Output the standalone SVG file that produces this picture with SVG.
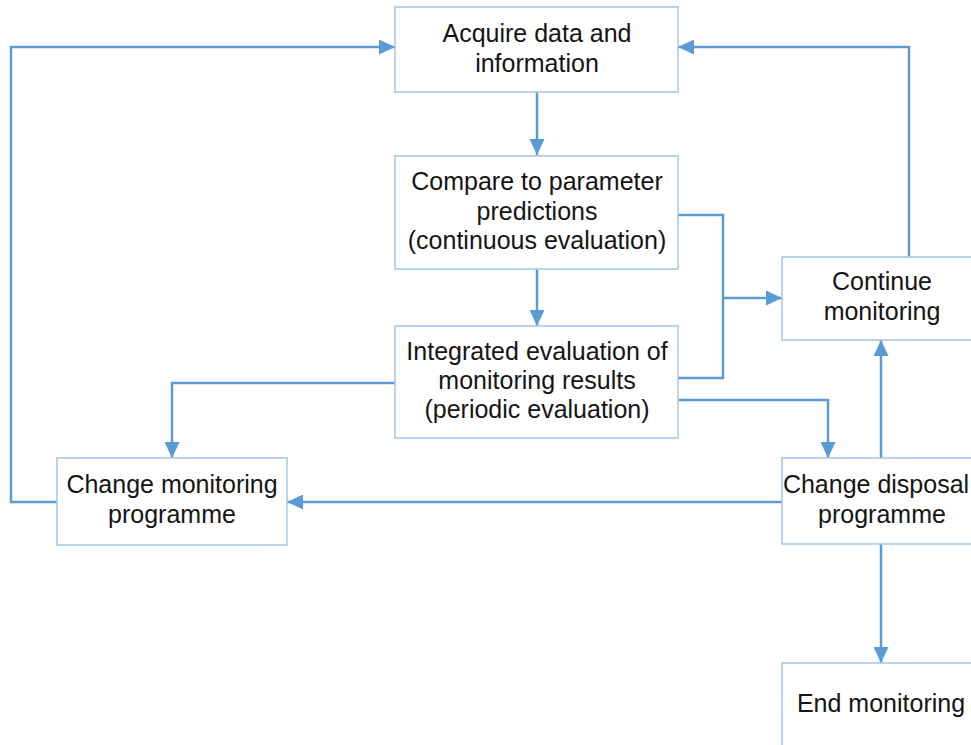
<svg xmlns="http://www.w3.org/2000/svg" width="971" height="745" viewBox="0 0 971 745">
<defs>
<marker id="arr" viewBox="0 0 16 15" refX="16" refY="7.5" markerWidth="16" markerHeight="15" markerUnits="userSpaceOnUse" orient="auto">
<path d="M0,0 L16,7.5 L0,15 Z" fill="#5B9BD5"/>
</marker>
<style>
.box{fill:#ffffff;stroke:#A9C8EC;stroke-width:1.6}
.t{font-family:"Liberation Sans",Arial,sans-serif;font-size:25px;fill:#141414;text-anchor:middle}
.c{fill:none;stroke:#5B9BD5;stroke-width:2.5}
</style>
</defs>
<rect width="971" height="745" fill="#ffffff"/>
<g id="connectors">
<path class="c" d="M537,92 V155" marker-end="url(#arr)"/>
<path class="c" d="M537,269 V326" marker-end="url(#arr)"/>
<path class="c" d="M57,502 H11 V47 H395" marker-end="url(#arr)"/>
<path class="c" d="M909,257 V47 H678" marker-end="url(#arr)"/>
<path class="c" d="M678,215 H723 V378 H678"/>
<path class="c" d="M723,298 H782" marker-end="url(#arr)"/>
<path class="c" d="M395,383 H172 V458" marker-end="url(#arr)"/>
<path class="c" d="M678,400 H828 V458" marker-end="url(#arr)"/>
<path class="c" d="M782,502 H287" marker-end="url(#arr)"/>
<path class="c" d="M881,458 V340" marker-end="url(#arr)"/>
<path class="c" d="M881,544 V663" marker-end="url(#arr)"/>
</g>
<g id="acquire">
<rect class="box" x="395" y="7" width="283" height="85"/>
<text class="t" x="537" y="42">Acquire data and</text>
<text class="t" x="537" y="72">information</text>
</g>
<g id="compare">
<rect class="box" x="395" y="156" width="283" height="113"/>
<text class="t" x="537" y="190">Compare to parameter</text>
<text class="t" x="537" y="220">predictions</text>
<text class="t" x="537" y="249">(continuous evaluation)</text>
</g>
<g id="integrated">
<rect class="box" x="395" y="326" width="283" height="112"/>
<text class="t" x="537" y="360">Integrated evaluation of</text>
<text class="t" x="537" y="389">monitoring results</text>
<text class="t" x="537" y="418">(periodic evaluation)</text>
</g>
<g id="continue">
<rect class="box" x="782" y="257" width="200" height="83"/>
<text class="t" x="882" y="290">Continue</text>
<text class="t" x="882" y="320">monitoring</text>
</g>
<g id="change-monitoring">
<rect class="box" x="57" y="458" width="230" height="87"/>
<text class="t" x="172" y="493">Change monitoring</text>
<text class="t" x="172" y="523">programme</text>
</g>
<g id="change-disposal">
<rect class="box" x="782" y="458" width="200" height="86"/>
<text class="t" x="876" y="493">Change disposal</text>
<text class="t" x="882" y="523">programme</text>
</g>
<g id="end">
<rect class="box" x="782" y="663" width="200" height="100"/>
<text class="t" x="881" y="712">End monitoring</text>
</g>
</svg>
